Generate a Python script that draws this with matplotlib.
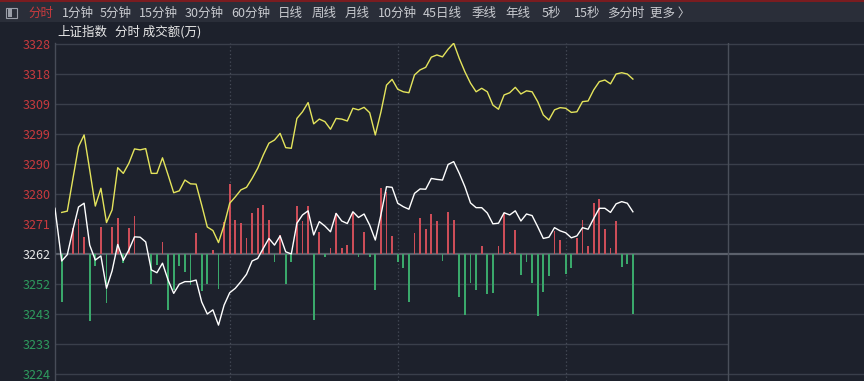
import numpy as np
import matplotlib
matplotlib.use("Agg")
import matplotlib.pyplot as plt
from matplotlib.patches import Rectangle

plt.rcParams['font.family'] = ['Noto Sans CJK SC', 'DejaVu Sans']

# ---------------- data ----------------
base_price = 3262
tick_step = 9.45
tick_offsets = [7, 6, 5, 4, 3, 2, 1, 0, -1, -2, -3, -4]
ytick_labels = ['3328', '3318', '3309', '3299', '3290', '3280', '3271',
                '3262', '3252', '3243', '3233', '3224']

# overlay (yellow) series, one value per 2-minute step
yellow = [3275.1, 3275.5, 3285.7, 3295.8, 3299.5, 3288.5, 3277.1, 3282.7, 3271.9, 3275.9,
          3289.2, 3287.4, 3290.6, 3295.1, 3294.8, 3295.2, 3287.4, 3287.4, 3292.3, 3286.9,
          3281.3, 3281.9, 3285.3, 3284.1, 3284.0, 3277.4, 3270.5, 3269.4, 3265.6, 3271.1,
          3278.0, 3280.0, 3282.2, 3283.0, 3285.8, 3289.0, 3293.2, 3296.9, 3297.9, 3300.0,
          3295.5, 3295.3, 3304.7, 3306.8, 3309.7, 3303.0, 3304.5, 3303.7, 3301.3, 3304.7,
          3304.5, 3303.9, 3307.9, 3307.4, 3308.2, 3306.5, 3299.5, 3306.7, 3315.2, 3317.0,
          3313.9, 3313.1, 3312.8, 3318.4, 3320.0, 3320.8, 3324.0, 3324.7, 3324.1, 3326.5,
          3328.4, 3323.6, 3319.4, 3315.8, 3313.1, 3314.2, 3313.1, 3308.9, 3307.6, 3312.1,
          3312.8, 3314.5, 3312.4, 3313.4, 3313.1, 3310.0, 3305.8, 3304.2, 3307.4, 3308.1,
          3307.9, 3306.6, 3306.8, 3310.0, 3310.2, 3313.7, 3316.3, 3316.8, 3315.6, 3318.7,
          3319.1, 3318.7, 3317.1]

# index (white) series: opening point, then one value per 2-minute step
white_open = 3276.4
white = [3259.8, 3261.8, 3269.6, 3276.8, 3278.0, 3264.8, 3260.1, 3261.4, 3251.2, 3256.7,
         3265.0, 3260.0, 3263.3, 3267.4, 3267.3, 3265.8, 3257.0, 3256.1, 3259.1, 3253.8,
         3249.6, 3252.5, 3253.3, 3253.3, 3253.8, 3246.9, 3243.1, 3244.4, 3239.6, 3245.9,
         3249.8, 3251.2, 3253.3, 3255.6, 3259.8, 3260.6, 3263.8, 3266.9, 3264.8, 3267.7,
         3262.7, 3262.0, 3271.7, 3274.3, 3275.6, 3268.0, 3272.2, 3270.8, 3269.0, 3274.8,
         3272.4, 3271.6, 3275.3, 3273.5, 3274.6, 3271.1, 3266.4, 3274.3, 3283.2, 3283.0,
         3278.0, 3276.9, 3276.1, 3281.1, 3282.5, 3282.4, 3285.8, 3285.5, 3285.3, 3290.2,
         3291.1, 3287.4, 3283.2, 3278.1, 3276.6, 3276.6, 3274.9, 3271.5, 3271.7, 3275.0,
         3274.3, 3275.6, 3272.4, 3274.6, 3274.1, 3270.6, 3266.9, 3267.3, 3270.3, 3269.3,
         3268.7, 3267.1, 3267.7, 3270.3, 3269.8, 3273.2, 3276.4, 3276.4, 3275.1, 3277.8,
         3278.5, 3278.0, 3275.3]

# turnover difference bars (drawn from the base line, in price-axis units)
flow = [-15.2, 0.0, 8.2, 11.1, 5.2, -21.0, -3.9, 8.6, -15.3, 8.6,
        11.2, -2.8, 8.3, 12.0, 0.0, 0.0, -9.5, -3.5, 3.8, -17.7,
        -11.3, -3.8, -5.7, -9.8, 6.5, -11.7, -9.5, 1.4, -10.9, 10.2,
        22.1, 10.6, 9.8, 4.9, 12.8, 14.4, 15.4, 10.7, -2.4, 6.0,
        -9.5, -2.5, 15.1, 10.4, 15.0, -20.7, 6.9, -0.8, 1.8, 12.8,
        1.8, 2.9, 13.2, -0.8, 7.0, -0.9, -11.3, 20.7, 19.6, 5.7,
        -2.4, -4.5, -15.0, 6.7, 11.4, 8.0, 12.6, 10.5, -2.1, 13.1,
        10.7, -13.5, -19.2, -9.2, -11.3, 2.6, -12.5, -12.4, 2.5, 12.8,
        0.7, 7.7, -6.6, -2.4, -9.1, -19.6, -11.9, -7.0, 7.3, 4.4,
        -6.3, -4.5, 5.1, 10.7, 2.5, 16.1, 17.4, 7.8, 1.8, 10.5,
        -4.2, -3.1, -19.0]

toolbar_items = ['分时', '1分钟', '5分钟', '15分钟', '30分钟', '60分钟', '日线', '周线',
                 '月线', '10分钟', '45日线', '季线', '年线', '5秒', '15秒', '多分时', '更多 〉']
toolbar_x = [28, 62, 100, 139, 185, 231, 278, 312, 345, 378, 423, 472, 505, 542, 574, 607, 650]

# ---------------- style ----------------
W, H = 864, 381
BG = '#1d212c'
BAR_BG = '#2a2e39'
GRID = '#3a3f4b'
RED_TXT = '#c83a3e'
GRN_TXT = '#2e9b5e'
RED_BAR = '#cc4d58'
GRN_BAR = '#3aa86b'
YEL = '#e4e45c'

fig = plt.figure(figsize=(W / 100, H / 100), dpi=100, facecolor=BG)

# toolbar
fig.patches.append(Rectangle((0, 1 - 22 / H), 1, 22 / H, transform=fig.transFigure,
                             facecolor=BAR_BG, edgecolor='none', zorder=0))
fig.patches.append(Rectangle((0, 1 - 2 / H), 1, 2 / H, transform=fig.transFigure,
                             facecolor='#7a1c20', edgecolor='none', zorder=1))
fig.patches.append(Rectangle((6 / W, 1 - 18 / H), 11 / W, 10 / H, transform=fig.transFigure,
                             facecolor='none', edgecolor='#9a9ea8', lw=0.8, zorder=2))
fig.patches.append(Rectangle((7.5 / W, 1 - 16.5 / H), 4 / W, 7 / H, transform=fig.transFigure,
                             facecolor='#9a9ea8', edgecolor='none', zorder=2))
for i, (t, xp) in enumerate(zip(toolbar_items, toolbar_x)):
    fig.text(xp / W, 1 - 13 / H, t, color=(RED_TXT if i == 0 else '#c9cbd0'),
             fontsize=9, va='center', ha='left')

fig.text(57 / W, 1 - 32 / H, '上证指数', color='#e8e8e8', fontsize=9, va='center')
fig.text(115 / W, 1 - 32 / H, '分时 成交额(万)', color='#e8e8e8', fontsize=9, va='center')

# main axes
x0_px, px_per_step = 61.7, 5.6
ax_left_px, ax_top_px, base_px = 55, 43, 254
units_per_px = tick_step / 30
ax = fig.add_axes([ax_left_px / W, 0, 1 - ax_left_px / W, (H - ax_top_px) / H])
ax.set_facecolor(BG)
ax.set_xlim((ax_left_px - x0_px) / px_per_step, (W - x0_px) / px_per_step)
ax.set_ylim(base_price - (H - base_px) * units_per_px,
            base_price + (base_px - ax_top_px) * units_per_px)

idx = np.arange(len(white))
box_right = 119

# grid
for k in tick_offsets:
    yv = base_price + k * tick_step
    if k == 0:
        ax.axhline(yv, color='#5c616c', lw=1.6, zorder=1)
    elif k == -3:
        ax.hlines(yv, ax.get_xlim()[0], box_right, color=GRID, lw=1.0, zorder=1)
    else:
        ax.axhline(yv, color=GRID, lw=1.0, zorder=1)
for xv in [30, 60, 90]:
    ax.axvline(xv, color='#474c58', lw=0.9, ls=(0, (1, 2)), zorder=1)
ax.axvline(box_right, color='#4a4f5a', lw=1.0, zorder=1)

# bars
flow_arr = np.array(flow)
colors = [RED_BAR if v > 0 else GRN_BAR for v in flow_arr]
ax.bar(idx, flow_arr, bottom=base_price, width=0.32, color=colors, linewidth=0, zorder=2)

# lines
ax.plot(idx, yellow, color=YEL, lw=1.0, zorder=3)
ax.plot(np.concatenate([[-1.2], idx]), np.concatenate([[white_open], white]),
        color='white', lw=1.0, zorder=4)

# ticks
ax.set_xticks([])
ax.set_yticks([base_price + k * tick_step for k in tick_offsets])
ax.set_yticklabels(ytick_labels)
ax.tick_params(axis='y', length=0, pad=3, labelsize=9)
for lab, k in zip(ax.get_yticklabels(), tick_offsets):
    lab.set_color(RED_TXT if k > 0 else (GRN_TXT if k < 0 else '#e8e8e8'))
for s in ['top', 'right', 'bottom']:
    ax.spines[s].set_visible(False)
ax.spines['left'].set_color('#474c58')
ax.spines['left'].set_linewidth(1.0)

fig.savefig('out.png', dpi=100, facecolor=BG)
